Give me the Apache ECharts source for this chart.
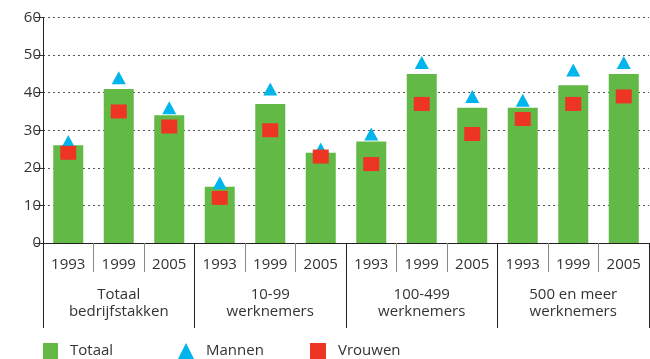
<!DOCTYPE html>
<html>
<head>
<meta charset="utf-8">
<script src="https://cdn.jsdelivr.net/npm/echarts@6/dist/echarts.min.js"></script>
<style>
  html, body { margin: 0; padding: 0; background: #fff; }
  #chart { width: 650px; height: 359px; }
</style>
</head>
<body>
<div id="chart"></div>
<script>
// Years shown under every bar, and the four company-size groups
var years = ['1993', '1999', '2005', '1993', '1999', '2005', '1993', '1999', '2005', '1993', '1999', '2005'];
var groups = ['Totaal\nbedrijfstakken', '10-99\nwerknemers', '100-499\nwerknemers', '500 en meer\nwerknemers'];

// Percentages per series
var totaal  = [26, 41, 34, 15, 37, 24, 27, 45, 36, 36, 42, 45];
var mannen  = [27, 44, 36, 16, 41, 25, 29, 48, 39, 38, 46, 48];
var vrouwen = [24, 35, 31, 12, 30, 23, 21, 37, 29, 33, 37, 39];

var yTicks = { min: 0, max: 60, interval: 10 };

var FONT = '"Open Sans", sans-serif';
var TEXT = '#333333';
var GREEN = '#62b946';
var BLUE = '#00b4ec';
var RED = '#ee3524';

var chart = echarts.init(document.getElementById('chart'));

function legendAt(name, icon, left, w, h) {
  return {
    data: [{ name: name, icon: icon }],
    left: left,
    top: 343,
    padding: 0,
    itemWidth: w,
    itemHeight: h,
    selectedMode: false,
    textStyle: { fontFamily: FONT, fontSize: 15, color: TEXT, padding: [0, 0, 0, 7] }
  };
}

chart.setOption({
  animation: false,
  textStyle: { fontFamily: FONT },
  grid: { left: 43, right: 1, top: 17.5, bottom: 116, containLabel: false },
  legend: [
    legendAt('Totaal', 'rect', 43, 15, 16),
    legendAt('Mannen', 'triangle', 178, 16, 16),
    legendAt('Vrouwen', 'rect', 310, 16, 16)
  ],
  xAxis: [
    {
      type: 'category',
      data: years,
      position: 'bottom',
      boundaryGap: true,
      axisLine: { show: true, lineStyle: { color: '#222', width: 1 } },
      axisTick: { show: true, interval: 0, length: 29, lineStyle: { color: '#888', width: 1 } },
      axisLabel: { interval: 0, margin: 14, fontSize: 15, color: TEXT, fontFamily: FONT },
      splitLine: { show: false }
    },
    {
      type: 'category',
      data: groups,
      position: 'bottom',
      boundaryGap: true,
      axisLine: { show: false },
      axisTick: { show: true, interval: 0, length: 85, lineStyle: { color: '#222', width: 1 } },
      axisLabel: { interval: 0, margin: 43, fontSize: 15, lineHeight: 17, color: TEXT, fontFamily: FONT },
      splitLine: { show: false }
    }
  ],
  yAxis: {
    type: 'value',
    min: yTicks.min,
    max: yTicks.max,
    interval: yTicks.interval,
    axisLine: { show: true, lineStyle: { color: '#222', width: 1 } },
    axisTick: { show: true, length: 8, lineStyle: { color: '#333', width: 1 } },
    axisLabel: { margin: 2, fontSize: 15, color: TEXT, fontFamily: FONT },
    splitLine: { show: true, lineStyle: { color: '#555', width: 1, type: [2, 3] } }
  },
  series: [
    {
      name: 'Totaal',
      type: 'bar',
      xAxisIndex: 0,
      data: totaal,
      barWidth: 30,
      itemStyle: { color: GREEN, opacity: 1 },
      z: 2
    },
    {
      name: 'Mannen',
      type: 'scatter',
      xAxisIndex: 0,
      data: mannen,
      symbol: 'triangle',
      symbolSize: [14, 13],
      itemStyle: { color: BLUE, opacity: 1 },
      z: 3
    },
    {
      name: 'Vrouwen',
      type: 'scatter',
      xAxisIndex: 0,
      data: vrouwen,
      symbol: 'rect',
      symbolSize: [16, 14],
      itemStyle: { color: RED, opacity: 1 },
      z: 4
    }
  ]
});
</script>
</body>
</html>
